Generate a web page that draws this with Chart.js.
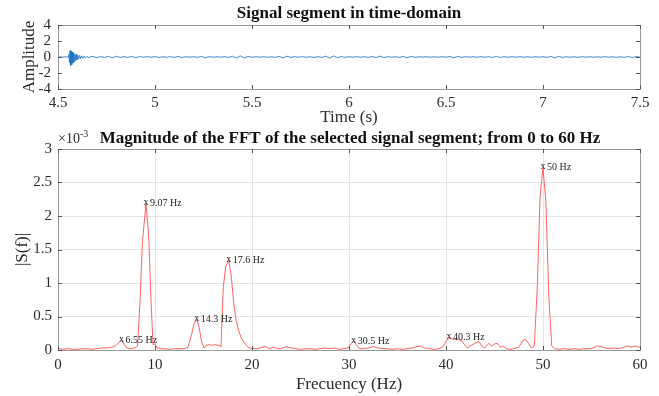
<!DOCTYPE html>
<html>
<head>
<meta charset="utf-8">
<script src="https://cdn.jsdelivr.net/npm/chart.js@4.4.1/dist/chart.umd.min.js"></script>
<style>
  html, body { margin: 0; padding: 0; background: #ffffff; }
  #wrap { position: relative; width: 659px; height: 396px; overflow: hidden; background: #fff; }
  canvas { position: absolute; left: 0; }
  #timeChart { top: 0; }
  #fftChart { top: 125px; }
</style>
</head>
<body>
<div id="wrap">
  <canvas id="timeChart" width="659" height="140"></canvas>
  <canvas id="fftChart" width="659" height="271"></canvas>
</div>
<script>
// ---- Time-domain segment: [time (s), amplitude] ----
const signalSamples = [
  [4.50,0.02],[4.52,-0.02],[4.54,0.03],[4.552,-0.02],
  [4.556,0.35],[4.559,-0.7],[4.562,0.8],[4.565,-1.05],[4.568,0.7],[4.571,-0.95],
  [4.574,0.6],[4.577,-0.75],[4.580,0.5],[4.583,-0.6],[4.586,0.4],[4.589,-0.45],
  [4.593,0.32],[4.597,-0.35],[4.601,0.25],[4.606,-0.28],[4.611,0.2],[4.616,-0.2],
  [4.622,0.15],[4.628,-0.16],[4.635,0.12],[4.642,-0.12],[4.65,0.1],[4.66,-0.09],[4.67,0.07],
  [4.68,0.06],[4.70,-0.07],[4.72,0.05],[4.74,-0.06],[4.76,0.09],[4.78,-0.12],[4.80,0.1],
  [4.82,-0.06],[4.84,0.04],[4.86,-0.05],[4.88,0.07],[4.90,-0.09],[4.92,0.05],[4.94,-0.03],
  [4.96,0.04],[4.98,-0.03],[5.00,0.05],[5.02,-0.06],[5.04,0.03],[5.06,-0.03],[5.08,0.04],
  [5.10,-0.05],[5.12,0.08],[5.14,-0.07],[5.16,0.03],[5.18,-0.02],[5.20,0.03],[5.22,-0.04],
  [5.24,0.07],[5.26,-0.08],[5.28,0.04],[5.30,-0.03],[5.32,0.03],[5.34,-0.02],[5.36,0.04],
  [5.38,-0.05],[5.40,0.08],[5.42,-0.13],[5.44,0.15],[5.46,-0.12],[5.48,0.07],[5.50,-0.04],
  [5.52,0.03],[5.54,-0.02],[5.56,0.03],[5.58,-0.04],[5.60,0.03],[5.62,-0.05],[5.64,0.09],
  [5.66,-0.12],[5.68,0.1],[5.70,-0.05],[5.72,0.04],[5.74,-0.03],[5.76,0.05],[5.78,-0.04],
  [5.80,0.03],[5.82,-0.05],[5.84,0.04],[5.86,-0.06],[5.88,0.11],[5.90,-0.15],[5.92,0.13],
  [5.94,-0.08],[5.96,0.05],[5.98,-0.04],[6.00,0.03],[6.02,-0.02],[6.04,0.04],[6.06,-0.03],
  [6.08,0.03],[6.10,-0.04],[6.12,0.05],[6.14,-0.08],[6.16,0.11],[6.18,-0.07],[6.20,0.04],
  [6.22,-0.03],[6.24,0.03],[6.26,-0.05],[6.28,0.07],[6.30,-0.1],[6.32,0.09],[6.34,-0.05],
  [6.36,0.03],[6.38,-0.02],[6.40,0.03],[6.42,-0.03],[6.44,0.02],[6.46,-0.03],[6.48,0.04],
  [6.50,-0.03],[6.52,0.06],[6.54,-0.09],[6.56,0.07],[6.58,-0.04],[6.60,0.03],[6.62,-0.02],
  [6.64,0.03],[6.66,-0.03],[6.68,0.04],[6.70,-0.03],[6.72,0.04],[6.74,-0.06],[6.76,0.08],
  [6.78,-0.06],[6.80,0.04],[6.82,-0.03],[6.84,0.03],[6.86,-0.02],[6.88,0.04],[6.90,-0.03],
  [6.92,0.03],[6.94,-0.04],[6.96,0.03],[6.98,-0.02],[7.00,0.04],[7.02,-0.05],[7.04,0.08],
  [7.06,-0.1],[7.08,0.08],[7.10,-0.05],[7.12,0.04],[7.14,-0.03],[7.16,0.03],[7.18,-0.04],
  [7.20,0.03],[7.22,-0.02],[7.24,0.03],[7.26,-0.04],[7.28,0.03],[7.30,-0.03],[7.32,0.04],
  [7.34,-0.03],[7.36,0.02],[7.38,-0.04],[7.40,0.03],[7.42,-0.05],[7.44,0.07],[7.46,-0.08],
  [7.48,0.06],[7.50,-0.03]
];

// ---- FFT magnitude, 0-60 Hz: [frequency (Hz), |S(f)| in units of 1e-3] ----
const spectrum = [
  [0,0.02],[0.5,0.01],[1,0.02],[1.5,0.01],[2,0.01],[2.5,0.02],[3,0.02],[3.5,0.01],[4,0.02],
  [4.5,0.03],[5,0.03],[5.5,0.04],[5.9,0.06],[6.2,0.1],[6.55,0.15],[6.85,0.08],[7.1,0.03],
  [7.5,0.02],[7.9,0.03],[8.2,0.06],[8.45,0.7],[8.7,1.6],[9.07,2.19],[9.35,1.7],[9.6,0.7],
  [9.8,0.08],[10.0,0.09],[10.2,0.03],[10.6,0.02],[11,0.02],[11.5,0.01],[12,0.02],[12.5,0.02],
  [13,0.02],[13.4,0.04],[13.75,0.22],[14.05,0.4],[14.3,0.46],[14.55,0.34],[14.8,0.12],
  [15.05,0.03],[15.3,0.07],[15.6,0.08],[15.9,0.07],[16.2,0.08],[16.5,0.07],[16.8,0.05],
  [17.05,0.95],[17.3,1.25],[17.6,1.34],[17.85,1.12],[18.1,0.72],[18.35,0.45],[18.6,0.3],
  [18.9,0.18],[19.2,0.11],[19.6,0.04],[20,0.02],[20.5,0.02],[21,0.04],[21.4,0.05],[21.8,0.02],
  [22.2,0.04],[22.6,0.02],[23,0.02],[23.5,0.05],[24,0.03],[24.5,0.02],[25,0.01],[25.5,0.02],
  [26,0.02],[26.5,0.01],[27,0.02],[27.5,0.03],[28,0.02],[28.5,0.03],[29,0.01],[29.5,0.02],
  [29.9,0.03],[30.2,0.09],[30.5,0.13],[30.8,0.07],[31.1,0.02],[31.5,0.02],[32,0.03],
  [32.5,0.05],[33,0.03],[33.5,0.02],[34,0.02],[34.5,0.01],[35,0.02],[35.5,0.01],[36,0.02],
  [36.5,0.03],[37,0.05],[37.4,0.06],[37.8,0.03],[38.3,0.02],[38.8,0.01],[39.3,0.02],
  [39.7,0.05],[40.0,0.13],[40.3,0.19],[40.7,0.16],[41.2,0.16],[41.6,0.14],[41.9,0.08],
  [42.2,0.03],[42.6,0.07],[43.0,0.1],[43.4,0.13],[43.7,0.06],[44.0,0.03],[44.4,0.1],
  [44.7,0.06],[45.0,0.09],[45.3,0.1],[45.6,0.04],[45.9,0.06],[46.2,0.02],[46.6,0.01],
  [47.0,0.02],[47.5,0.04],[47.9,0.14],[48.2,0.16],[48.5,0.1],[48.8,0.03],[49.1,0.06],
  [49.4,0.9],[49.7,2.3],[50,2.72],[50.3,2.2],[50.6,0.8],[50.9,0.06],[51.2,0.02],[51.7,0.01],
  [52.2,0.02],[52.7,0.01],[53.2,0.02],[53.7,0.01],[54.2,0.02],[54.7,0.02],[55.2,0.03],
  [55.6,0.06],[56.0,0.05],[56.4,0.03],[56.8,0.02],[57.3,0.03],[57.8,0.02],[58.3,0.04],
  [58.7,0.06],[59.1,0.04],[59.5,0.06],[60,0.04]
];

// ---- Labelled spectral peaks ----
const peakFreqs  = [6.55, 9.07, 14.3, 17.6, 30.5, 40.3, 50];
const peakMags   = [0.15, 2.19, 0.46, 1.34, 0.13, 0.19, 2.72];
const peakLabels = ['6.55 Hz', '9.07 Hz', '14.3 Hz', '17.6 Hz', '30.5 Hz', '40.3 Hz', '50 Hz'];

// ---- Axis ticks ----
const timeTicks = [4.5, 5, 5.5, 6, 6.5, 7, 7.5];
const ampTicks  = [-4, -2, 0, 2, 4];
const freqTicks = [0, 10, 20, 30, 40, 50, 60];
const magTicks  = [0, 0.5, 1, 1.5, 2, 2.5, 3];

const SERIF = "'Liberation Serif', 'Times New Roman', serif";
const TEXT = '#2a2a2a';
const FRAME = '#9a9a9a';

// Fixed axis box sizes so both plot areas line up
function fixY(width) { return s => { s.width = width; s.paddingTop = 0; s.paddingBottom = 0; }; }
function fixX(height) { return s => { s.height = height; s.paddingLeft = 0; s.paddingRight = 0; }; }
function useTicks(list) { return s => { s.ticks = list.map(v => ({ value: v })); }; }
const plainNumber = v => String(v);

// Box around the plot area with inward tick marks on all four sides
const frameBox = {
  id: 'frameBox',
  afterDatasetsDraw(chart) {
    const { ctx, chartArea: a, scales } = chart;
    const len = 4;
    ctx.save();
    ctx.strokeStyle = FRAME;
    ctx.lineWidth = 1;
    ctx.strokeRect(Math.round(a.left) + 0.5, Math.round(a.top) + 0.5,
                   Math.round(a.right - a.left), Math.round(a.bottom - a.top));
    ctx.strokeStyle = '#555';
    ctx.beginPath();
    scales.x.ticks.forEach(t => {
      const px = Math.round(scales.x.getPixelForValue(t.value)) + 0.5;
      ctx.moveTo(px, a.bottom); ctx.lineTo(px, a.bottom - len);
      ctx.moveTo(px, a.top); ctx.lineTo(px, a.top + len);
    });
    scales.y.ticks.forEach(t => {
      const py = Math.round(scales.y.getPixelForValue(t.value)) + 0.5;
      ctx.moveTo(a.left, py); ctx.lineTo(a.left + len, py);
      ctx.moveTo(a.right, py); ctx.lineTo(a.right - len, py);
    });
    ctx.stroke();
    ctx.restore();
  }
};

// Bold heading centred over the plot area
const heading = {
  id: 'heading',
  afterDraw(chart, args, opts) {
    const { ctx, chartArea: a } = chart;
    ctx.save();
    ctx.fillStyle = '#111';
    ctx.font = `bold ${opts.size}px ${SERIF}`;
    ctx.textAlign = 'center';
    ctx.textBaseline = 'alphabetic';
    ctx.fillText(opts.text, (a.left + a.right) / 2 + (opts.dx || 0), a.top - opts.gap);
    if (opts.exponent) {
      ctx.fillStyle = TEXT;
      ctx.textAlign = 'left';
      ctx.font = `14px ${SERIF}`;
      ctx.fillText('×10', a.left, a.top - opts.gap);
      const w = ctx.measureText('×10').width;
      ctx.font = `10px ${SERIF}`;
      ctx.fillText(opts.exponent, a.left + w, a.top - opts.gap - 6);
    }
    ctx.restore();
  }
};

// "x <freq>" annotations at each labelled peak
const peakNotes = {
  id: 'peakNotes',
  afterDatasetsDraw(chart) {
    const { ctx, scales } = chart;
    ctx.save();
    ctx.fillStyle = '#222';
    ctx.font = `10px ${SERIF}`;
    ctx.textBaseline = 'middle';
    peakFreqs.forEach((f, i) => {
      const px = scales.x.getPixelForValue(f);
      const py = scales.y.getPixelForValue(peakMags[i]);
      ctx.textAlign = 'center';
      ctx.fillText('x', px, py - 1);
      ctx.textAlign = 'left';
      ctx.fillText(peakLabels[i], px + 4, py);
    });
    ctx.restore();
  }
};

Chart.defaults.font.family = SERIF;
Chart.defaults.color = TEXT;

new Chart(document.getElementById('timeChart'), {
  type: 'line',
  data: {
    datasets: [{
      data: signalSamples.map(([t, v]) => ({ x: t, y: v })),
      borderColor: 'rgba(30,115,200,0.85)',
      borderWidth: 1,
      pointRadius: 0,
      tension: 0
    }]
  },
  options: {
    responsive: false,
    animation: false,
    devicePixelRatio: 1,
    layout: { padding: { top: 25, right: 19, left: 0, bottom: 0 } },
    plugins: {
      legend: { display: false },
      tooltip: { enabled: false },
      heading: { text: 'Signal segment in time-domain', size: 17, gap: 7 }
    },
    scales: {
      x: {
        type: 'linear', min: 4.5, max: 7.5,
        afterFit: fixX(51),
        afterBuildTicks: useTicks(timeTicks),
        grid: { display: false, drawTicks: false },
        border: { display: false },
        ticks: { font: { size: 15 }, padding: 5, maxRotation: 0, autoSkip: false, callback: plainNumber },
        title: { display: true, text: 'Time (s)', font: { size: 17 }, padding: { bottom: 12 } }
      },
      y: {
        type: 'linear', min: -4, max: 4,
        afterFit: fixY(58),
        afterBuildTicks: useTicks(ampTicks),
        grid: { display: false, drawTicks: false },
        border: { display: false },
        ticks: { font: { size: 15 }, padding: 7, autoSkip: false, callback: plainNumber },
        title: { display: true, text: 'Amplitude', font: { size: 17 }, padding: { top: 19 } }
      }
    }
  },
  plugins: [frameBox, heading]
});

new Chart(document.getElementById('fftChart'), {
  type: 'line',
  data: {
    datasets: [{
      data: spectrum.map(([f, m]) => ({ x: f, y: m })),
      borderColor: 'rgba(255,70,70,0.85)',
      borderWidth: 1,
      pointRadius: 0,
      tension: 0
    }]
  },
  options: {
    responsive: false,
    animation: false,
    devicePixelRatio: 1,
    layout: { padding: { top: 24, right: 19, left: 0, bottom: 0 } },
    plugins: {
      legend: { display: false },
      tooltip: { enabled: false },
      heading: {
        text: 'Magnitude of the FFT of the selected signal segment; from 0 to 60 Hz',
        size: 17, gap: 6, dx: 1, exponent: '-3'
      }
    },
    scales: {
      x: {
        type: 'linear', min: 0, max: 60,
        afterFit: fixX(46),
        afterBuildTicks: useTicks(freqTicks),
        grid: { color: '#e4e4e4', drawTicks: false },
        border: { display: false },
        ticks: { font: { size: 15 }, padding: 6, maxRotation: 0, autoSkip: false, callback: plainNumber },
        title: { display: true, text: 'Frecuency (Hz)', font: { size: 17 }, padding: { bottom: 1 } }
      },
      y: {
        type: 'linear', min: 0, max: 3,
        afterFit: fixY(58),
        afterBuildTicks: useTicks(magTicks),
        grid: { color: '#e4e4e4', drawTicks: false },
        border: { display: false },
        ticks: { font: { size: 15 }, padding: 6, autoSkip: false, callback: plainNumber },
        title: { display: true, text: '|S(f)|', font: { size: 17 }, padding: { top: 12 } }
      }
    }
  },
  plugins: [frameBox, heading, peakNotes]
});
</script>
</body>
</html>
